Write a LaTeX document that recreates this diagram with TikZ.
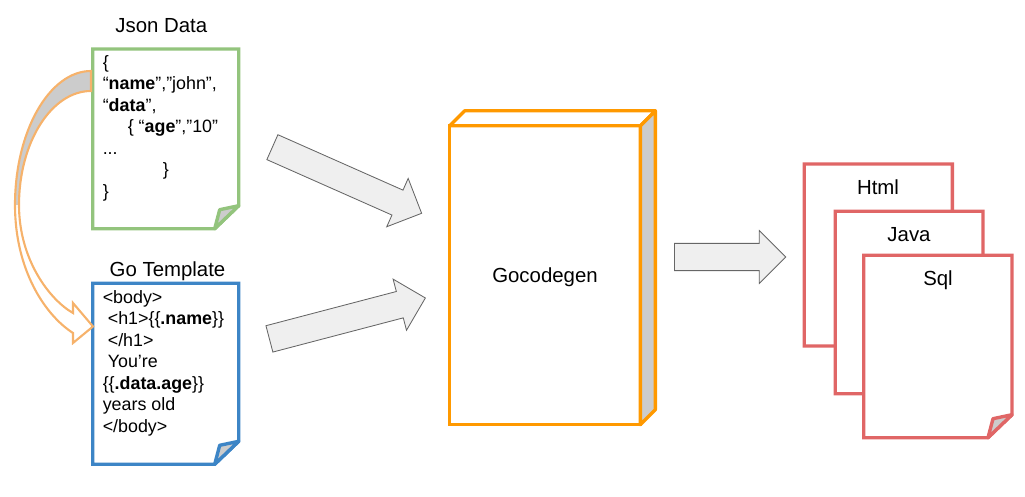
\documentclass[tikz,border=0pt]{standalone}
\usepackage{fontspec}
\setmainfont{Liberation Sans}
\usetikzlibrary{shapes.arrows}

\definecolor{jsongreen}{RGB}{147,196,125}
\definecolor{goblue}{RGB}{61,133,198}
\definecolor{genorange}{RGB}{255,153,0}
\definecolor{outred}{RGB}{224,102,102}
\definecolor{curveorange}{RGB}{246,178,107}
\definecolor{foldgray}{RGB}{204,204,204}
\definecolor{arrowfill}{RGB}{239,239,239}
\definecolor{arrowline}{RGB}{102,102,102}

\tikzset{
  pageline/.style={line width=2.4pt},
  foldline/.style={line width=2.4pt, line join=round},
  genline/.style={draw=genorange, line width=2.4pt, line join=round},
  curveline/.style={draw=curveorange, line width=1.5pt},
  title/.style={anchor=base, inner sep=0pt, font=\fontsize{14.5}{17}\selectfont},
  bodytext/.style={anchor=base west, align=left, inner sep=0pt,
    font=\fontsize{12.7}{15.3}\selectfont},
  genbox/.style={draw=genorange, fill=white, line width=2.4pt, outer sep=0pt,
    minimum width=4.765cm, minimum height=7.47cm, inner sep=0pt,
    font=\fontsize{14.5}{17}\selectfont, text depth=0pt},
  blockarrow/.style={single arrow, draw=arrowline, fill=arrowfill, line width=0.6pt,
    anchor=tail, inner xsep=0pt, inner ysep=0.33cm, text height=0pt, text depth=0pt,
    single arrow head extend=0.32cm, minimum width=1.3cm}
}

% page with folded corner: x1, y1, x2, y2, colour
\newcommand{\docpage}[5]{%
  \draw [pageline, draw=#5, fill=white] (#1,#2) -- (#3,#2) -- (#3,#4-23)
    -- (#3-24,#4) -- (#1,#4) -- cycle;
  \draw [foldline, draw=#5, fill=foldgray] (#3,#4-23) -- (#3-19,#4-19)
    -- (#3-24,#4) -- cycle;%
}

\begin{document}
\begin{tikzpicture}[x=0.025cm, y=-0.025cm]
  \useasboundingbox (0,0) rectangle (1025,497);

  %Json Data
  \node [title] (jsontitle) at (161.3,33) {Json Data};
  \docpage{92.7}{49}{238.7}{228.7}{jsongreen}
  % base of the text = last line
  \node [bodytext] (jsontext) at (102.5,197.5) {\{\\
    “\textbf{name}”,”john”,\\
    “\textbf{data}”,\\
    \hspace*{17.8pt}\{ “\textbf{age}”,”10”\\
    ...\\
    \hspace*{42.7pt}\}\\
    \}};

  %Go Template
  \node [title] (gotitle) at (167.5,277) {Go Template};
  \docpage{92.7}{283.3}{238.7}{464.3}{goblue}
  \node [bodytext] (gotext) at (102.5,432.5) {<body>\\
    \hspace*{3.6pt}<h1>\{\{\textbf{.name}\}\}\\
    \hspace*{3.6pt}</h1>\\
    \hspace*{3.6pt}You’re\\
    \{\{\textbf{.data.age}\}\}\\
    years old\\
    </body>};

  %Curved arrow
  \fill [foldgray] (91,71) .. controls (49.5,71) and (15,131) .. (15,205)
    -- (19,205) .. controls (19,142) and (51.7,91) .. (91,91) -- cycle;
  \draw [curveline] (91,71) .. controls (49.5,71) and (15,131) .. (15,205)
    .. controls (15,270) and (45,315) .. (73,333) -- (73,343) -- (93,326.5)
    -- (73,303) -- (73,313) .. controls (50,300) and (19,260) .. (19,205)
    .. controls (19,142) and (51.7,91) .. (91,91) -- cycle;

  %Arrows
  \node [blockarrow, rotate=-23.9, minimum height=4.08cm] (toparrow) at (272,147) {};
  \node [blockarrow, rotate=14.7, minimum height=4.03cm] (botarrow) at (269,339) {};
  \node [blockarrow, minimum height=2.78cm] (outarrow) at (674,257) {};

  %Gocodegen
  \node [genbox] (gen) at (545,275.25) {Gocodegen};
  \draw [genline, fill=white] (gen.north west) -- ++(15,-15)
    -- ([shift={(15,-15)}]gen.north east) -- (gen.north east) -- cycle;
  \draw [genline, fill=foldgray] (gen.north east) -- ++(15,-15)
    -- ([shift={(15,-15)}]gen.south east) -- (gen.south east) -- cycle;

  %Output
  \docpage{804.3}{164}{952.3}{346}{outred}
  \node [title] (html) at (878,195) {Html};
  \docpage{835.3}{211.3}{983}{393.7}{outred}
  \node [title] (java) at (909,241.7) {Java};
  \docpage{863.7}{255.3}{1012}{437.7}{outred}
  \node [title] (sql) at (938,286) {Sql};
\end{tikzpicture}
\end{document}
